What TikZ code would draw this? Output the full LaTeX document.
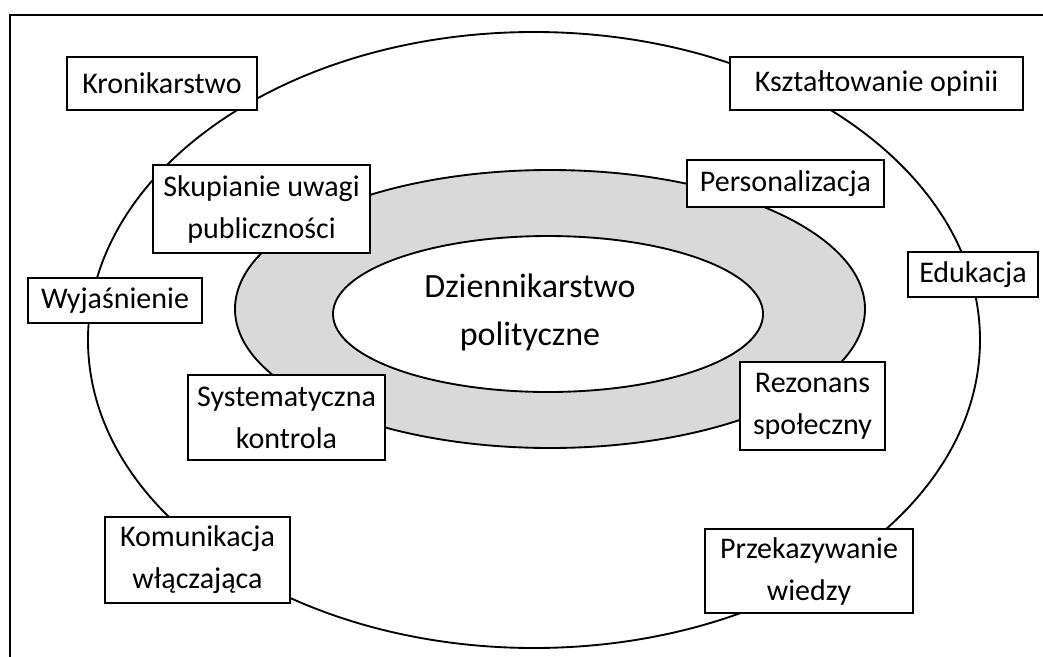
\documentclass[tikz,border=0pt]{standalone}
\usepackage{fontspec}
\setmainfont{Carlito}
\usetikzlibrary{shapes.geometric}
\definecolor{ringgray}{HTML}{D9D9D9}
\tikzset{
  lbl/.style={draw=black, line width=1.5pt, fill=white, align=center, inner sep=0pt,
    font=\fontsize{22.5}{31.5}\selectfont},
  ell/.style={ellipse, draw=black, line width=1.4pt, inner sep=0pt}
}
\begin{document}
\begin{tikzpicture}[x=0.75pt, y=-0.75pt]
\useasboundingbox (0,0) rectangle (1043,657);
\coordinate (fa) at (10,657);
\coordinate (fb) at (10,15);
\coordinate (fc) at (1043,15);
\draw[line width=1.6pt] (fa) -- (fb) -- (fc);
% ellipses
\node[ell, minimum width=669pt, minimum height=462pt] (outer) at (534,340) {};
\node[ell, fill=ringgray, minimum width=472.5pt, minimum height=208.5pt] (ring) at (550,309) {};
\node[ell, fill=white, minimum width=322.5pt, minimum height=117pt] (core) at (548,314) {};
\node[align=center, font=\fontsize{25.5}{36}\selectfont] (title) at (530,312) {Dziennikarstwo\\polityczne};
% boxes
\node[lbl, minimum width=142.5pt, minimum height=39.75pt] (kron) at (162,83.5) {Kronikarstwo};
\node[lbl, minimum width=219.75pt, minimum height=39.75pt] (kszt) at (876.5,83.5) {Kształtowanie opinii};
\node[lbl, minimum width=162.75pt, minimum height=66pt] (skup) at (261.5,209) {Skupianie uwagi\\publiczności};
\node[lbl, minimum width=147.75pt, minimum height=35.25pt] (pers) at (785.5,183.5) {Personalizacja};
\node[lbl, minimum width=97.5pt, minimum height=33.75pt] (eduk) at (973,274.5) {Edukacja};
\node[lbl, minimum width=130.5pt, minimum height=33.75pt] (wyja) at (115,300.5) {Wyjaśnienie};
\node[lbl, minimum width=147.75pt, minimum height=63.75pt] (syst) at (286.5,417.5) {Systematyczna\\kontrola};
\node[lbl, minimum width=108.75pt, minimum height=66pt] (rezo) at (812.5,406) {Rezonans\\społeczny};
\node[lbl, minimum width=138.75pt, minimum height=64.5pt] (komu) at (197.5,560) {Komunikacja\\włączająca};
\node[lbl, minimum width=156pt, minimum height=63pt] (prze) at (809,571) {Przekazywanie\\wiedzy};
\end{tikzpicture}
\end{document}
